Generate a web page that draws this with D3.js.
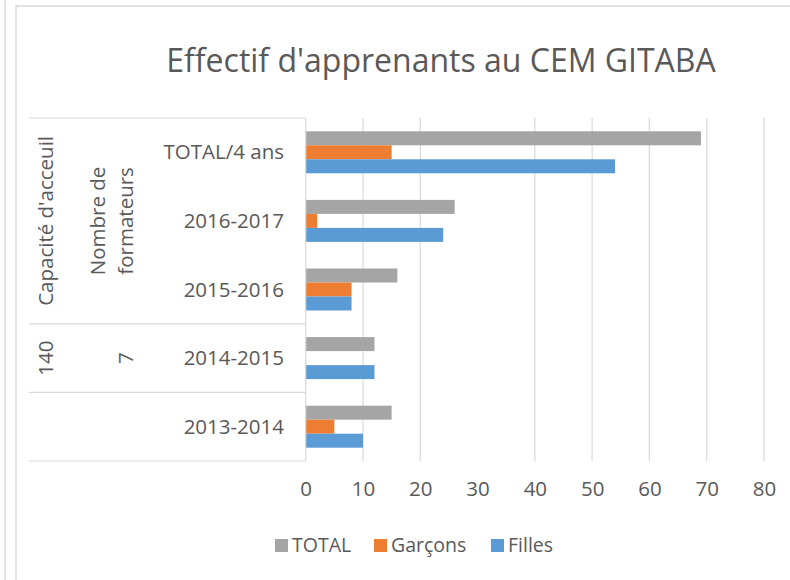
<!DOCTYPE html>
<html lang="fr">
<head>
<meta charset="UTF-8">
<title>Effectif d'apprenants au CEM GITABA</title>
<script src="https://cdnjs.cloudflare.com/ajax/libs/d3/7.8.4/d3.min.js"></script>
<style>
    body { margin: 0; background: #fff; }
    svg { display: block; font-family: "Open Sans", sans-serif; }
</style>
</head>
<body>
<svg width="790" height="580"></svg>
<script>
    // data
    const categories = ["TOTAL/4 ans", "2016-2017", "2015-2016", "2014-2015", "2013-2014"];
    const totals  = [69, 26, 16, 12, 15];
    const garcons = [15, 2, 8, 0, 5];
    const filles  = [54, 24, 8, 12, 10];
    const seriesNames = ["TOTAL", "Garçons", "Filles"];
    const seriesColors = ["#A5A5A5", "#ED7D31", "#5B9BD5"];
    const xTicks = [0, 10, 20, 30, 40, 50, 60, 70, 80];

    // outer category levels (label lines, number of categories spanned)
    const level2 = [{ lines: ["Nombre de", "formateurs"], span: 3 }, { lines: ["7"], span: 1 }, { lines: [""], span: 1 }];
    const level3 = [{ lines: ["Capacité d'acceuil"], span: 3 }, { lines: ["140"], span: 1 }, { lines: [""], span: 1 }];

    const svg = d3.select("svg");
    const textColor = "#595959";
    const lineColor = "#D9D9D9";

    const plot = { left: 305.7, right: 764, top: 118, bottom: 461 };
    const tableLeft = 29;

    // chart frame
    svg.append("line").attr("x1", 5).attr("x2", 5).attr("y1", 0).attr("y2", 580)
        .attr("stroke", lineColor).attr("stroke-width", 1.5);
    svg.append("path").attr("d", "M16,580V6H790")
        .attr("fill", "none").attr("stroke", lineColor).attr("stroke-width", 1.5);

    svg.append("text")
        .attr("x", 441).attr("y", 72)
        .attr("text-anchor", "middle")
        .attr("font-size", 32)
        .attr("fill", textColor)
        .text("Effectif d'apprenants au CEM GITABA");

    const x = d3.scaleLinear().domain([0, 80]).range([plot.left, plot.right]);
    const y = d3.scaleBand().domain(categories).range([plot.top, plot.bottom])
        .paddingInner(0.388).paddingOuter(0.194);
    const ySub = d3.scaleBand().domain(seriesNames).range([0, y.bandwidth()]);

    // gridlines (the 30 line is not visible in the reference)
    svg.append("g").selectAll("line")
        .data(xTicks.filter(t => t !== 0 && t !== 30))
        .join("line")
        .attr("x1", d => x(d)).attr("x2", d => x(d))
        .attr("y1", plot.top).attr("y2", plot.bottom)
        .attr("stroke", lineColor).attr("stroke-width", 1.2);

    // x axis labels
    const xAxis = d3.axisBottom(x).tickValues(xTicks).tickSize(0).tickPadding(0);
    const gx = svg.append("g").attr("transform", `translate(0,${plot.bottom + 20})`).call(xAxis);
    gx.select(".domain").remove();
    gx.selectAll("text").attr("font-size", 20.5).attr("fill", textColor)
        .attr("font-family", "Open Sans, sans-serif");

    // bars
    const rows = categories.map((c, i) => ({
        cat: c,
        vals: [totals[i], garcons[i], filles[i]]
    }));
    const groups = svg.append("g").selectAll("g")
        .data(rows).join("g")
        .attr("transform", d => `translate(0,${y(d.cat)})`);
    groups.selectAll("rect")
        .data(d => d.vals.map((v, j) => ({ v, name: seriesNames[j], color: seriesColors[j] })))
        .join("rect")
        .attr("x", x(0))
        .attr("y", d => ySub(d.name))
        .attr("width", d => x(d.v) - x(0))
        .attr("height", ySub.bandwidth())
        .attr("fill", d => d.color);

    // vertical axis line
    svg.append("line").attr("x1", plot.left).attr("x2", plot.left)
        .attr("y1", plot.top).attr("y2", plot.bottom)
        .attr("stroke", lineColor).attr("stroke-width", 1.2);

    // category labels
    svg.append("g").selectAll("text")
        .data(categories).join("text")
        .attr("x", 284)
        .attr("y", d => y(d) + y.bandwidth() / 2)
        .attr("dy", "0.35em")
        .attr("text-anchor", "end")
        .attr("font-size", 20.5)
        .attr("fill", textColor)
        .text(d => d);

    // table lines between groups
    const step = y.step();
    let start = 0;
    const bounds = [0];
    level3.forEach(g => { start += g.span; bounds.push(start); });
    svg.append("g").selectAll("line")
        .data(bounds).join("line")
        .attr("x1", tableLeft).attr("x2", plot.left)
        .attr("y1", d => plot.top + d * step).attr("y2", d => plot.top + d * step)
        .attr("stroke", lineColor).attr("stroke-width", 1.2);

    // rotated group labels
    function drawLevel(level, lastX) {
        let s = 0;
        level.forEach(g => {
            const cy = plot.top + (s + g.span / 2) * step;
            s += g.span;
            const n = g.lines.length;
            g.lines.forEach((line, k) => {
                const cx = lastX - (n - 1 - k) * 28;
                svg.append("text")
                    .attr("transform", `translate(${cx},${cy}) rotate(-90)`)
                    .attr("dy", "0.35em")
                    .attr("text-anchor", "middle")
                    .attr("font-size", 20.5)
                    .attr("fill", textColor)
                    .text(line);
            });
        });
    }
    drawLevel(level2, 126);
    drawLevel(level3, 46);

    // legend
    const legendX = [275, 374, 491];
    const legend = svg.append("g").selectAll("g")
        .data(seriesNames).join("g")
        .attr("transform", (d, i) => `translate(${legendX[i]},539)`);
    legend.append("rect").attr("width", 13).attr("height", 13)
        .attr("fill", (d, i) => seriesColors[i]);
    legend.append("text").attr("x", 17).attr("y", 6.5).attr("dy", "0.35em")
        .attr("font-size", 19.5).attr("fill", textColor)
        .text(d => d);
</script>
</body>
</html>
